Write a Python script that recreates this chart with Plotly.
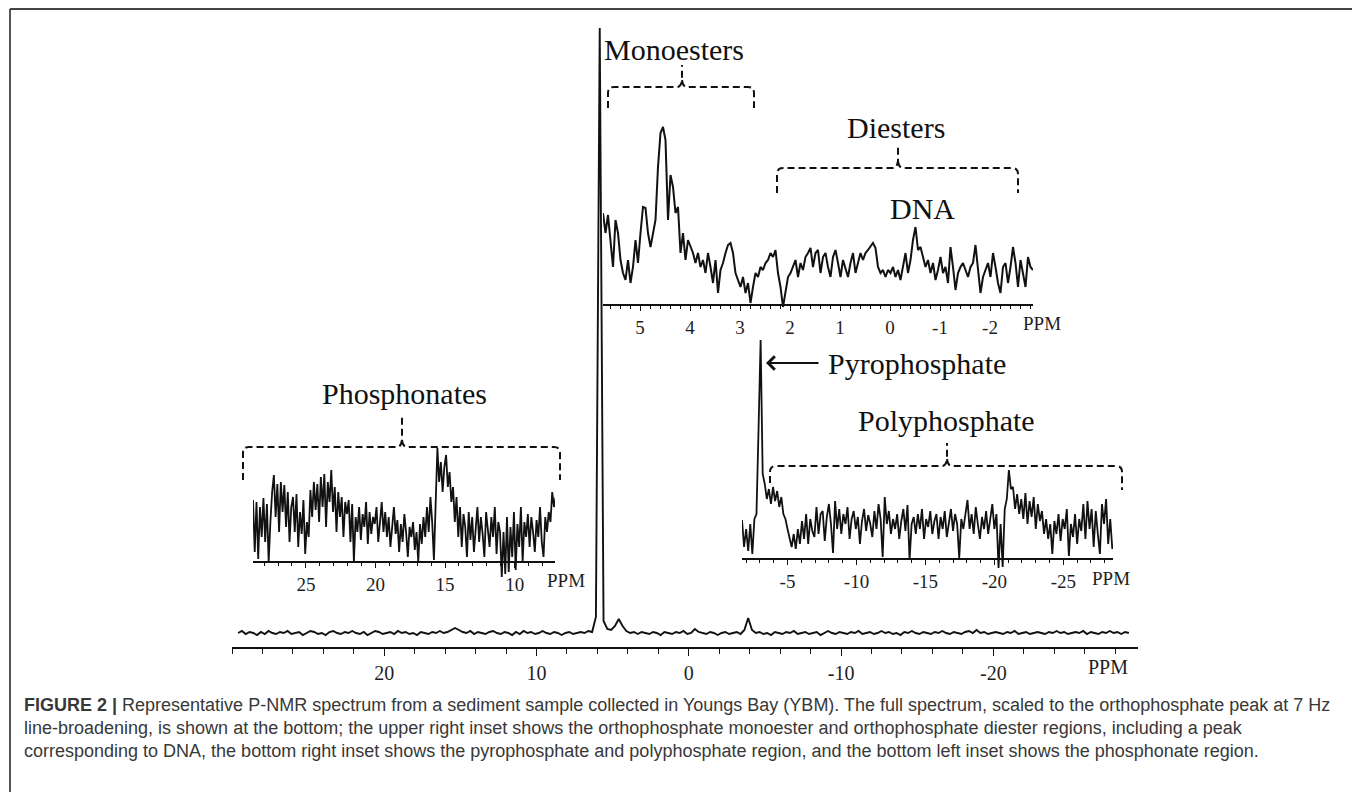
import plotly.graph_objects as go

W, H = 1360, 792
OFFSET = 8  # page body margin of the browser

# ---------------- data ----------------
# full spectrum: chemical shift grid start/step (ppm) and intensities (arbitrary units)
main_ppm_start = 29.6
main_ppm_step = -0.25
main_intensity = [
    14, 16, 13, 15, 14, 12, 15, 13, 16, 14,
    13, 15, 14, 16, 13, 14, 15, 12, 14, 16,
    15, 13, 14, 12, 15, 16, 14, 13, 15, 14,
    16, 14, 13, 15, 12, 14, 16, 15, 13, 14,
    15, 13, 16, 14, 15, 13, 14, 12, 15, 14,
    13, 15, 14, 16, 14, 15, 17, 19, 17, 15,
    14, 16, 13, 15, 14, 13, 15, 16, 14, 13,
    15, 14, 12, 15, 13, 16, 14, 15, 13, 14,
    16, 14, 13, 15, 14, 12, 14, 15, 13, 14,
    15, 14, 16, 15, 30, 619, 26, 18, 17, 21,
    28, 21, 16, 14, 15, 13, 15, 14, 13, 15,
    14, 12, 15, 14, 13, 15, 14, 16, 13, 14,
    18, 15, 14, 13, 15, 14, 12, 14, 15, 13,
    14, 15, 13, 17, 29, 17, 14, 15, 13, 14,
    12, 15, 14, 13, 15, 14, 16, 13, 14, 15,
    13, 14, 15, 12, 14, 16, 14, 13, 15, 14,
    13, 15, 14, 16, 13, 14, 15, 13, 14, 16,
    14, 15, 13, 14, 12, 15, 14, 16, 14, 13,
    15, 14, 13, 15, 14, 16, 14, 13, 15, 14,
    13, 15, 16, 14, 17, 14, 15, 13, 14, 15,
    14, 13, 15, 14, 16, 13, 14, 15, 13, 14,
    15, 14, 13, 15, 14, 16, 14, 15, 13, 14,
    15, 14, 16, 13, 15, 14, 13, 15, 14, 16,
    14, 15, 13, 15, 14,
]

# upper right inset: monoester / diester region
mono_ppm_start = 5.74
mono_ppm_step = -0.05
mono_intensity = [
    92, 72, 90, 65, 38, 85, 72, 45, 32, 25,
    45, 22, 38, 65, 42, 72, 98, 97, 72, 58,
    72, 85, 138, 172, 178, 165, 85, 130, 118, 92,
    98, 52, 72, 45, 65, 58, 52, 42, 52, 38,
    45, 32, 52, 38, 22, 45, 12, 35, 42, 52,
    60, 62, 52, 32, 25, 18, 28, 12, 22, 2,
    18, 32, 28, 38, 35, 42, 45, 52, 48, 55,
    32, 18, -2, 15, 28, 32, 38, 45, 28, 42,
    35, 48, 52, 57, 38, 52, 55, 32, 48, 52,
    38, 28, 48, 55, 42, 28, 45, 35, 28, 42,
    52, 32, 42, 52, 45, 52, 55, 58, 62, 57,
    38, 32, 35, 28, 35, 32, 38, 28, 35, 25,
    38, 52, 32, 45, 65, 78, 55, 58, 48, 38,
    45, 32, 42, 25, 35, 48, 32, 38, 22, 58,
    38, 15, 32, 38, 42, 35, 28, 38, 42, 60,
    35, 12, 28, 35, 42, 28, 52, 38, 22, 12,
    38, 42, 22, 38, 58, 42, 18, 45, 32, 18,
    48, 38, 35,
]

# bottom left inset: phosphonate region
phon_ppm_start = 28.8
phon_ppm_step = -0.125
phon_intensity = [
    62, 10, 60, 3, 55, 25, 64, 20, 58, 0, 40, 70,
    87, 45, 78, 30, 80, 50, 77, 35, 70, 20, 55, 65,
    30, 68, 15, 50, 28, 62, 8, 40, 25,
    72, 45, 80, 52, 78, 40, 85, 55, 88, 35, 80, 60, 92, 50, 75, 30, 70, 45, 65, 25, 60, 48,
    62, 20, 58, 0, 45, 30, 55, 22, 48, 35, 60, 18, 50, 28, 45, 38, 55, 20, 42, 60, 30,
    50, 25, 45, 15, 40, 55, 28, 42, 10, 38, 20, 48, 30, 5, 35, 25, 40, 12, 30, 0,
    38, 18, 45, 25, 55, 30, 65, 40, 2, 60,
    114, 80, 100, 70, 95, 107, 75, 90, 60, 75,
    40, 65, 25, 55, 15, 48, 35, 5, 50, 22, 45, 10, 38, 55, 20, 45, 28, 5, 50, 30, 15, 45,
    25, 55, 8, 40, 30,
    -15, 30, -12, 45, -10, 35, 5, 50, -8, 38, 15, 55, 0, 40, 25,
    48, 15, 45, 30, 10, 42, 25, 55, 20, 5, 45, 30, 50, 40, 70, 55, 65,
]

# bottom right inset: pyrophosphate / polyphosphate region
poly_ppm_start = -1.7
poly_ppm_step = -0.15
poly_intensity = [
    39, 12, 30, 8, 35, 5, 40, 45, 130, 219,
    85, 75, 60, 70, 55, 72, 58, 68, 52, 62,
    45, 40, 30, 20, 12, 25, 10, 30, 15, 38,
    20, 45, 15, 40, 28, 22, 52, 25, 45, 48,
    18, 42, 55, 35, 6, 58, 30, 50, 25, 45,
    35, 52, 20, 40, 48, 30, 42, 15, 38, 50,
    28, 44, 35, 22, 48, 30, 55, 40, 2, 62,
    35, 48, 25, 40, 30, 45, 20, 38, 50, 28,
    54, -1, 35, 42, 25, 45, 30, 50, 20, 40,
    32, 48, 25, 38, 45, 20, 42, 30, 48, 22,
    38, 50, 28, 45, 35, 1, 40, 30, 45, 59,
    30, 45, 25, 52, 35, 20, 42, 30, 48, 25,
    40, 55, 30, 45, -9, 35, -8, 50, 60, 89,
    70, 72, 50, 65, 45, 60, 40, 66, 35, 58,
    42, 62, 30, 55, 38, 48, 25, 40, 20, 35,
    5, 38, 25, 45, 18, 40, 30, 50, 3, 35,
    22, 45, 15, 40, 28, 55, 20, 58, 30, 50,
    12, 48, 25, 5, 55, 35, 60, 15, 40, 10,
]

# tick labels
main_ticks = [20, 10, 0, -10, -20]
main_tick_text = ["20", "10", "0", "-10", "-20"]
main_minor = list(range(30, -30, -2))
mono_ticks = [5, 4, 3, 2, 1, 0, -1, -2]
mono_tick_text = ["5", "4", "3", "2", "1", "0", "-1", "-2"]
mono_minor = [round(5.6 - 0.2 * k, 1) for k in range(43)]
phon_ticks = [25, 20, 15, 10]
phon_tick_text = ["25", "20", "15", "10"]
phon_minor = list(range(28, 7, -1))
poly_ticks = [-5, -10, -15, -20, -25]
poly_tick_text = ["-5", "-10", "-15", "-20", "-25"]
poly_minor = list(range(-2, -29, -1))

caption_lines = [
    "<b>FIGURE 2 |</b> Representative P-NMR spectrum from a sediment sample collected in Youngs Bay (YBM). The full spectrum, scaled to the orthophosphate peak at 7 Hz",
    "line-broadening, is shown at the bottom; the upper right inset shows the orthophosphate monoester and orthophosphate diester regions, including a peak",
    "corresponding to DNA, the bottom right inset shows the pyrophosphate and polyphosphate region, and the bottom left inset shows the phosphonate region.",
]

# ---------------- helpers ----------------
def fx(p):
    return (p - OFFSET) / W


def fy(p):
    return 1 - (p - OFFSET) / H


SERIF = "Liberation Serif, Times New Roman, serif"
INK = "#111111"

fig = go.Figure()
fig.add_trace(go.Scatter(y=main_intensity, x0=main_ppm_start, dx=main_ppm_step, mode="lines",
                         line=dict(color=INK, width=1.9), xaxis="x", yaxis="y", hoverinfo="skip"))
fig.add_trace(go.Scatter(y=mono_intensity, x0=mono_ppm_start, dx=mono_ppm_step, mode="lines",
                         line=dict(color=INK, width=2), xaxis="x2", yaxis="y2", hoverinfo="skip"))
fig.add_trace(go.Scatter(y=phon_intensity, x0=phon_ppm_start, dx=phon_ppm_step, mode="lines",
                         line=dict(color=INK, width=1.8), xaxis="x3", yaxis="y3", hoverinfo="skip"))
fig.add_trace(go.Scatter(y=poly_intensity, x0=poly_ppm_start, dx=poly_ppm_step, mode="lines",
                         line=dict(color=INK, width=1.8), xaxis="x4", yaxis="y4", hoverinfo="skip"))


def xaxis_style(domain, rng, ticks, ticktext, minor, fsize, tlen, mlen, **extra):
    d = dict(domain=domain, range=rng, showline=True, linecolor=INK, linewidth=1.6,
             ticks="outside", ticklen=tlen, tickwidth=1.4, tickcolor=INK,
             tickmode="array", tickvals=ticks, ticktext=ticktext,
             tickfont=dict(family=SERIF, size=fsize, color="#1e1e1e"),
             showgrid=False, zeroline=False, fixedrange=True,
             minor=dict(tickmode="array", tickvals=minor, ticks="outside", ticklen=mlen,
                        tickwidth=1.2, tickcolor=INK, showgrid=False))
    d.update(extra)
    return d


def yaxis_hidden(domain, rng):
    return dict(domain=domain, range=rng, visible=False, showgrid=False, zeroline=False,
                fixedrange=True)


fig.update_layout(
    width=W, height=H, margin=dict(l=0, r=0, t=0, b=0),
    paper_bgcolor="white", plot_bgcolor="rgba(0,0,0,0)", showlegend=False,
    xaxis=xaxis_style([fx(232), fx(1138)], [30, -29.5], main_ticks, main_tick_text,
                      main_minor, 20, 7, 5, anchor="y"),
    yaxis=yaxis_hidden([fy(647), fy(20)], [0, 627]),
    xaxis2=xaxis_style([fx(603), fx(1033)], [5.74, -2.86], mono_ticks, mono_tick_text,
                       mono_minor, 19, 5, 3, anchor="free", position=fy(305)),
    yaxis2=yaxis_hidden([fy(325), fy(105)], [-20, 200]),
    xaxis3=xaxis_style([fx(253), fx(555)], [28.8, 7.1], phon_ticks, phon_tick_text,
                       phon_minor, 19, 5, 3, anchor="free", position=fy(562)),
    yaxis3=yaxis_hidden([fy(587), fy(432)], [-25, 130]),
    xaxis4=xaxis_style([fx(742), fx(1113)], [-1.7, -28.6], poly_ticks, poly_tick_text,
                       poly_minor, 19, 5, 3, anchor="free", position=fy(559)),
    yaxis4=yaxis_hidden([fy(579), fy(329)], [-20, 230]),
)

annotations = []


def label(text, x, y, size=30, family=SERIF, color=INK, xanchor="center"):
    annotations.append(dict(text=text, x=fx(x), y=fy(y), xref="paper", yref="paper",
                            xanchor=xanchor, yanchor="middle", showarrow=False,
                            font=dict(family=family, size=size, color=color)))


label("Monoesters", 674, 49)
label("Diesters", 896, 127)
label("DNA", 922, 208)
label("Phosphonates", 404, 393)
label("Pyrophosphate", 917, 363)
label("Polyphosphate", 946, 420)
label("PPM", 1108, 667, size=20, color="#1e1e1e")
label("PPM", 1042, 323, size=19, color="#1e1e1e")
label("PPM", 566, 580, size=19, color="#1e1e1e")
label("PPM", 1111, 578, size=19, color="#1e1e1e")

# arrow pointing at pyrophosphate peak
annotations.append(dict(text="", x=fx(766), y=fy(363), xref="paper", yref="paper",
                        ax=54, ay=0, showarrow=True, arrowhead=4, arrowsize=1.3,
                        arrowwidth=2, arrowcolor=INK, standoff=0))

# caption
for i, line in enumerate(caption_lines):
    annotations.append(dict(text=line, x=fx(22), y=fy(705 + 23 * i), xref="paper", yref="paper",
                            xanchor="left", yanchor="middle", showarrow=False, align="left",
                            font=dict(family="Liberation Sans, Arial, sans-serif", size=18,
                                      color="#383838")))
fig.update_layout(annotations=annotations)


def brace(x0, x1, yh, ye0, ye1, xc, yt, r=6):
    pts = [
        f"M {fx(x0)},{fy(ye0)}",
        f"L {fx(x0)},{fy(yh + r)}",
        f"Q {fx(x0)},{fy(yh)} {fx(x0 + r)},{fy(yh)}",
        f"L {fx(xc - 5)},{fy(yh)}",
        f"Q {fx(xc - 1)},{fy(yh)} {fx(xc)},{fy(yh - 7)}",
        f"L {fx(xc)},{fy(yt)}",
        f"M {fx(xc)},{fy(yh - 7)}",
        f"Q {fx(xc + 1)},{fy(yh)} {fx(xc + 5)},{fy(yh)}",
        f"L {fx(x1 - r)},{fy(yh)}",
        f"Q {fx(x1)},{fy(yh)} {fx(x1)},{fy(yh + r)}",
        f"L {fx(x1)},{fy(ye1)}",
    ]
    return dict(type="path", path=" ".join(pts), xref="paper", yref="paper",
                line=dict(color=INK, width=2, dash="7px,4px"))


shapes = [
    brace(608, 754, 87, 108, 108, 682, 65),
    brace(777, 1018, 168, 193, 193, 898, 147),
    brace(243, 560, 447, 480, 480, 402, 415),
    brace(770, 1122, 466, 483, 490, 947, 443),
    # outer frame
    dict(type="line", xref="paper", yref="paper", x0=fx(10), x1=fx(10), y0=fy(9), y1=0,
         line=dict(color="#555555", width=2)),
    dict(type="line", xref="paper", yref="paper", x0=fx(10), x1=fx(1356), y0=fy(9), y1=fy(9),
         line=dict(color="#444444", width=2)),
    dict(type="line", xref="paper", yref="paper", x0=fx(1356), x1=fx(1356), y0=fy(9), y1=0,
         line=dict(color="#555555", width=2)),
]
fig.update_layout(shapes=shapes)

fig.write_html("out.html")
